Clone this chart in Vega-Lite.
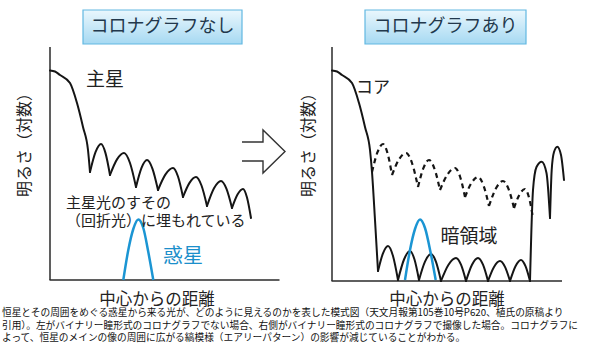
{
  "$schema": "https://vega.github.io/schema/vega-lite/v6.json",
  "width": 590,
  "height": 359,
  "padding": 0,
  "autosize": {"type": "fit", "contains": "padding"},
  "background": "white",
  "config": {"view": {"stroke": null}, "text": {"font": "Noto Sans CJK JP"}},
  "datasets": {
    "solid": [
      {"s":"L0","x":50,"y":70.5},{"s":"L0","x":55,"y":71.5},{"s":"L0","x":60,"y":75},{"s":"L0","x":70,"y":83},{"s":"L0","x":77,"y":103},{"s":"L0","x":83,"y":127},{"s":"L0","x":88,"y":150},{"s":"L0","x":90,"y":172},
      {"s":"L1","x":90,"y":172},{"s":"L1","x":95.5,"y":152.2},{"s":"L1","x":101,"y":144},{"s":"L1","x":105.5,"y":153.1},{"s":"L1","x":110,"y":175},
      {"s":"L2","x":110,"y":175},{"s":"L2","x":117,"y":159.4},{"s":"L2","x":124,"y":153},{"s":"L2","x":130,"y":163},{"s":"L2","x":136,"y":187},
      {"s":"L3","x":136,"y":187},{"s":"L3","x":141.5,"y":167.9},{"s":"L3","x":147,"y":160},{"s":"L3","x":152.5,"y":168.8},{"s":"L3","x":158,"y":190},
      {"s":"L4","x":158,"y":190},{"s":"L4","x":165.5,"y":174.4},{"s":"L4","x":173,"y":168},{"s":"L4","x":178,"y":176.5},{"s":"L4","x":183,"y":197},
      {"s":"L5","x":183,"y":197},{"s":"L5","x":189.5,"y":182.9},{"s":"L5","x":196,"y":177},{"s":"L5","x":201.5,"y":185.5},{"s":"L5","x":207,"y":206},
      {"s":"L6","x":207,"y":206},{"s":"L6","x":214,"y":188.3},{"s":"L6","x":221,"y":181},{"s":"L6","x":226.5,"y":188.9},{"s":"L6","x":232,"y":208},
      {"s":"L7","x":232,"y":208},{"s":"L7","x":237.5,"y":194.6},{"s":"L7","x":243,"y":189},{"s":"L7","x":247,"y":197.5},{"s":"L7","x":251,"y":218},
      {"s":"R0","x":332,"y":70.5},{"s":"R0","x":337,"y":71.5},{"s":"R0","x":342,"y":75},{"s":"R0","x":352,"y":83},{"s":"R0","x":359,"y":103},{"s":"R0","x":365,"y":127},{"s":"R0","x":370,"y":150},{"s":"R0","x":372,"y":172},{"s":"R0","x":375,"y":220},{"s":"R0","x":378,"y":271},
      {"s":"R1","x":378,"y":271},{"s":"R1","x":383,"y":253.3},{"s":"R1","x":388,"y":246},{"s":"R1","x":393,"y":256},{"s":"R1","x":398,"y":280},
      {"s":"R2","x":398,"y":280},{"s":"R2","x":404,"y":259.5},{"s":"R2","x":410,"y":251},{"s":"R2","x":414.5,"y":259.5},{"s":"R2","x":419,"y":280},
      {"s":"R3","x":419,"y":280},{"s":"R3","x":425,"y":261.6},{"s":"R3","x":431,"y":254},{"s":"R3","x":436,"y":261.9},{"s":"R3","x":441,"y":281},
      {"s":"R4","x":441,"y":281},{"s":"R4","x":448.5,"y":264.7},{"s":"R4","x":456,"y":258},{"s":"R4","x":461,"y":264.7},{"s":"R4","x":466,"y":281},
      {"s":"R5","x":466,"y":281},{"s":"R5","x":472,"y":264.7},{"s":"R5","x":478,"y":258},{"s":"R5","x":483,"y":264.7},{"s":"R5","x":488,"y":281},
      {"s":"R6","x":488,"y":281},{"s":"R6","x":494,"y":266.9},{"s":"R6","x":500,"y":261},{"s":"R6","x":505,"y":266.9},{"s":"R6","x":510,"y":281},
      {"s":"R7","x":510,"y":281},{"s":"R7","x":515.5,"y":266.2},{"s":"R7","x":521,"y":260},{"s":"R7","x":525.5,"y":266.2},{"s":"R7","x":530,"y":281},
      {"s":"O1","x":530,"y":281},{"s":"O1","x":533,"y":190},{"s":"O1","x":536.5,"y":167},{"s":"O1","x":541.7,"y":161.7},{"s":"O1","x":546.5,"y":173},{"s":"O1","x":550,"y":218},
      {"s":"O2","x":550,"y":218},{"s":"O2","x":551.7,"y":170},{"s":"O2","x":554,"y":152},{"s":"O2","x":557.3,"y":146.7},{"s":"O2","x":561,"y":155},{"s":"O2","x":564,"y":180}
    ],
    "dashed": [
      {"s":"D1","x":372,"y":172},{"s":"D1","x":377.5,"y":152.2},{"s":"D1","x":383,"y":144},{"s":"D1","x":387.5,"y":153.1},{"s":"D1","x":392,"y":175},
      {"s":"D2","x":392,"y":175},{"s":"D2","x":399,"y":159.4},{"s":"D2","x":406,"y":153},{"s":"D2","x":412,"y":163},{"s":"D2","x":418,"y":187},
      {"s":"D3","x":418,"y":187},{"s":"D3","x":423.5,"y":167.9},{"s":"D3","x":429,"y":160},{"s":"D3","x":434.5,"y":168.8},{"s":"D3","x":440,"y":190},
      {"s":"D4","x":440,"y":190},{"s":"D4","x":447.5,"y":174.4},{"s":"D4","x":455,"y":168},{"s":"D4","x":460,"y":176.5},{"s":"D4","x":465,"y":197},
      {"s":"D5","x":465,"y":197},{"s":"D5","x":471.5,"y":182.9},{"s":"D5","x":478,"y":177},{"s":"D5","x":483.5,"y":185.5},{"s":"D5","x":489,"y":206},
      {"s":"D6","x":489,"y":206},{"s":"D6","x":496,"y":188.3},{"s":"D6","x":503,"y":181},{"s":"D6","x":508.5,"y":188.9},{"s":"D6","x":514,"y":208},
      {"s":"D7","x":514,"y":208},{"s":"D7","x":519.5,"y":194.6},{"s":"D7","x":525,"y":189},{"s":"D7","x":529,"y":197.5},{"s":"D7","x":533,"y":218}
    ],
    "planet": [
      {"s":"P1","x":123.3,"y":280},{"s":"P1","x":128.3,"y":250},{"s":"P1","x":133.3,"y":229},{"s":"P1","x":138.3,"y":219.5},{"s":"P1","x":143.3,"y":228},{"s":"P1","x":148.3,"y":252},{"s":"P1","x":153.3,"y":280},
      {"s":"P2","x":405,"y":280},{"s":"P2","x":410,"y":250},{"s":"P2","x":415,"y":229},{"s":"P2","x":420,"y":219.5},{"s":"P2","x":425,"y":228},{"s":"P2","x":430.5,"y":252},{"s":"P2","x":435.7,"y":280}
    ],
    "axes": [
      {"x":50,"x2":50,"y":47,"y2":280},
      {"x":49.5,"x2":279.5,"y":280,"y2":280},
      {"x":332,"x2":332,"y":47,"y2":281},
      {"x":331.5,"x2":562,"y":281,"y2":281}
    ],
    "arrow": [
      {"i":0,"x":242,"y":142},{"i":1,"x":263,"y":142},{"i":2,"x":263,"y":130},{"i":3,"x":285,"y":151.5},{"i":4,"x":263,"y":173},{"i":5,"x":263,"y":161},{"i":6,"x":242,"y":161}
    ],
    "boxes": [
      {"x":83,"x2":242,"y":10,"y2":44,"label":"コロナグラフなし"},
      {"x":365,"x2":526,"y":10,"y2":44,"label":"コロナグラフあり"}
    ]
  },
  "encoding": {
    "x": {"field": "x", "type": "quantitative", "scale": {"domain": [0, 590], "nice": false, "zero": false}, "axis": null},
    "y": {"field": "y", "type": "quantitative", "scale": {"domain": [0, 359], "nice": false, "zero": false, "reverse": true}, "axis": null}
  },
  "layer": [
    {
      "data": {"name": "boxes"},
      "mark": {"type": "rect", "stroke": "#62b8e2", "strokeWidth": 1.2,
        "fill": {"gradient": "linear", "x1": 0, "y1": 0, "x2": 0, "y2": 1,
          "stops": [{"offset": 0, "color": "#eaf7fd"}, {"offset": 1, "color": "#a6d9f2"}]}},
      "encoding": {"x2": {"field": "x2"}, "y2": {"field": "y2"}}
    },
    {
      "data": {"name": "boxes"},
      "transform": [{"calculate": "(datum.x + datum.x2) / 2", "as": "cx"}, {"calculate": "(datum.y + datum.y2) / 2", "as": "cy"}],
      "mark": {"type": "text", "fontSize": 18, "color": "#22384c", "align": "center", "baseline": "middle"},
      "encoding": {
        "x": {"field": "cx", "type": "quantitative"},
        "y": {"field": "cy", "type": "quantitative"},
        "text": {"field": "label"}
      }
    },
    {
      "data": {"name": "axes"},
      "mark": {"type": "rule", "color": "#2a2a2a", "strokeWidth": 1.5},
      "encoding": {"x2": {"field": "x2"}, "y2": {"field": "y2"}}
    },
    {
      "data": {"name": "solid"},
      "mark": {"type": "line", "interpolate": "monotone", "color": "#151515", "strokeWidth": 2, "strokeCap": "round", "strokeJoin": "round"},
      "encoding": {"detail": {"field": "s"}}
    },
    {
      "data": {"name": "dashed"},
      "mark": {"type": "line", "interpolate": "monotone", "color": "#151515", "strokeWidth": 2.2, "strokeDash": [5, 4]},
      "encoding": {"detail": {"field": "s"}}
    },
    {
      "data": {"name": "planet"},
      "mark": {"type": "line", "interpolate": "monotone", "color": "#1b95d3", "strokeWidth": 2.5},
      "encoding": {"detail": {"field": "s"}}
    },
    {
      "data": {"name": "arrow"},
      "mark": {"type": "line", "color": "#333333", "strokeWidth": 1.4, "strokeJoin": "miter"},
      "encoding": {"order": {"field": "i"}}
    },
    {
      "data": {"values": [{"x": 105, "y": 80, "t": "主星"}, {"x": 469, "y": 236.5, "t": "暗領域"}]},
      "mark": {"type": "text", "fontSize": 19, "color": "#222222", "align": "center", "baseline": "middle"},
      "encoding": {"text": {"field": "t"}}
    },
    {
      "data": {"values": [{"x": 373, "y": 87.5, "t": "コア"}]},
      "mark": {"type": "text", "fontSize": 17, "color": "#222222", "align": "center", "baseline": "middle"},
      "encoding": {"text": {"field": "t"}}
    },
    {
      "data": {"values": [{"x": 183, "y": 256.5, "t": "惑星"}]},
      "mark": {"type": "text", "fontSize": 20, "color": "#1b8fcb", "align": "center", "baseline": "middle"},
      "encoding": {"text": {"field": "t"}}
    },
    {
      "data": {"values": [{"x": 66, "y": 202.5, "t": "主星光のすその"}, {"x": 66, "y": 220.5, "t": "（回折光）に埋もれている"}]},
      "mark": {"type": "text", "fontSize": 15, "color": "#222222", "align": "left", "baseline": "middle"},
      "encoding": {"text": {"field": "t"}}
    },
    {
      "data": {"values": [{"x": 157, "y": 300, "t": "中心からの距離"}, {"x": 447, "y": 300, "t": "中心からの距離"}]},
      "mark": {"type": "text", "fontSize": 16.5, "color": "#222222", "align": "center", "baseline": "middle"},
      "encoding": {"text": {"field": "t"}}
    },
    {
      "data": {"values": [{"x": 25, "y": 141, "t": "明るさ（対数）"}, {"x": 308.5, "y": 141, "t": "明るさ（対数）"}]},
      "mark": {"type": "text", "fontSize": 16, "color": "#222222", "align": "center", "baseline": "middle", "angle": 270},
      "encoding": {"text": {"field": "t"}}
    },
    {
      "data": {"values": [
        {"x": 2, "y": 313, "t": "恒星とその周囲をめぐる惑星から来る光が、どのように見えるのかを表した模式図（天文月報第105巻10号P620、植氏の原稿より"},
        {"x": 2, "y": 325.5, "t": "引用）。左がバイナリー瞳形式のコロナグラフでない場合、右側がバイナリー瞳形式のコロナグラフで撮像した場合。コロナグラフに"},
        {"x": 2, "y": 338, "t": "よって、恒星のメインの像の周囲に広がる縞模様（エアリーパターン）の影響が減じていることがわかる。"}
      ]},
      "mark": {"type": "text", "fontSize": 9.7, "color": "#111111", "align": "left", "baseline": "middle"},
      "encoding": {"text": {"field": "t"}}
    }
  ]
}
